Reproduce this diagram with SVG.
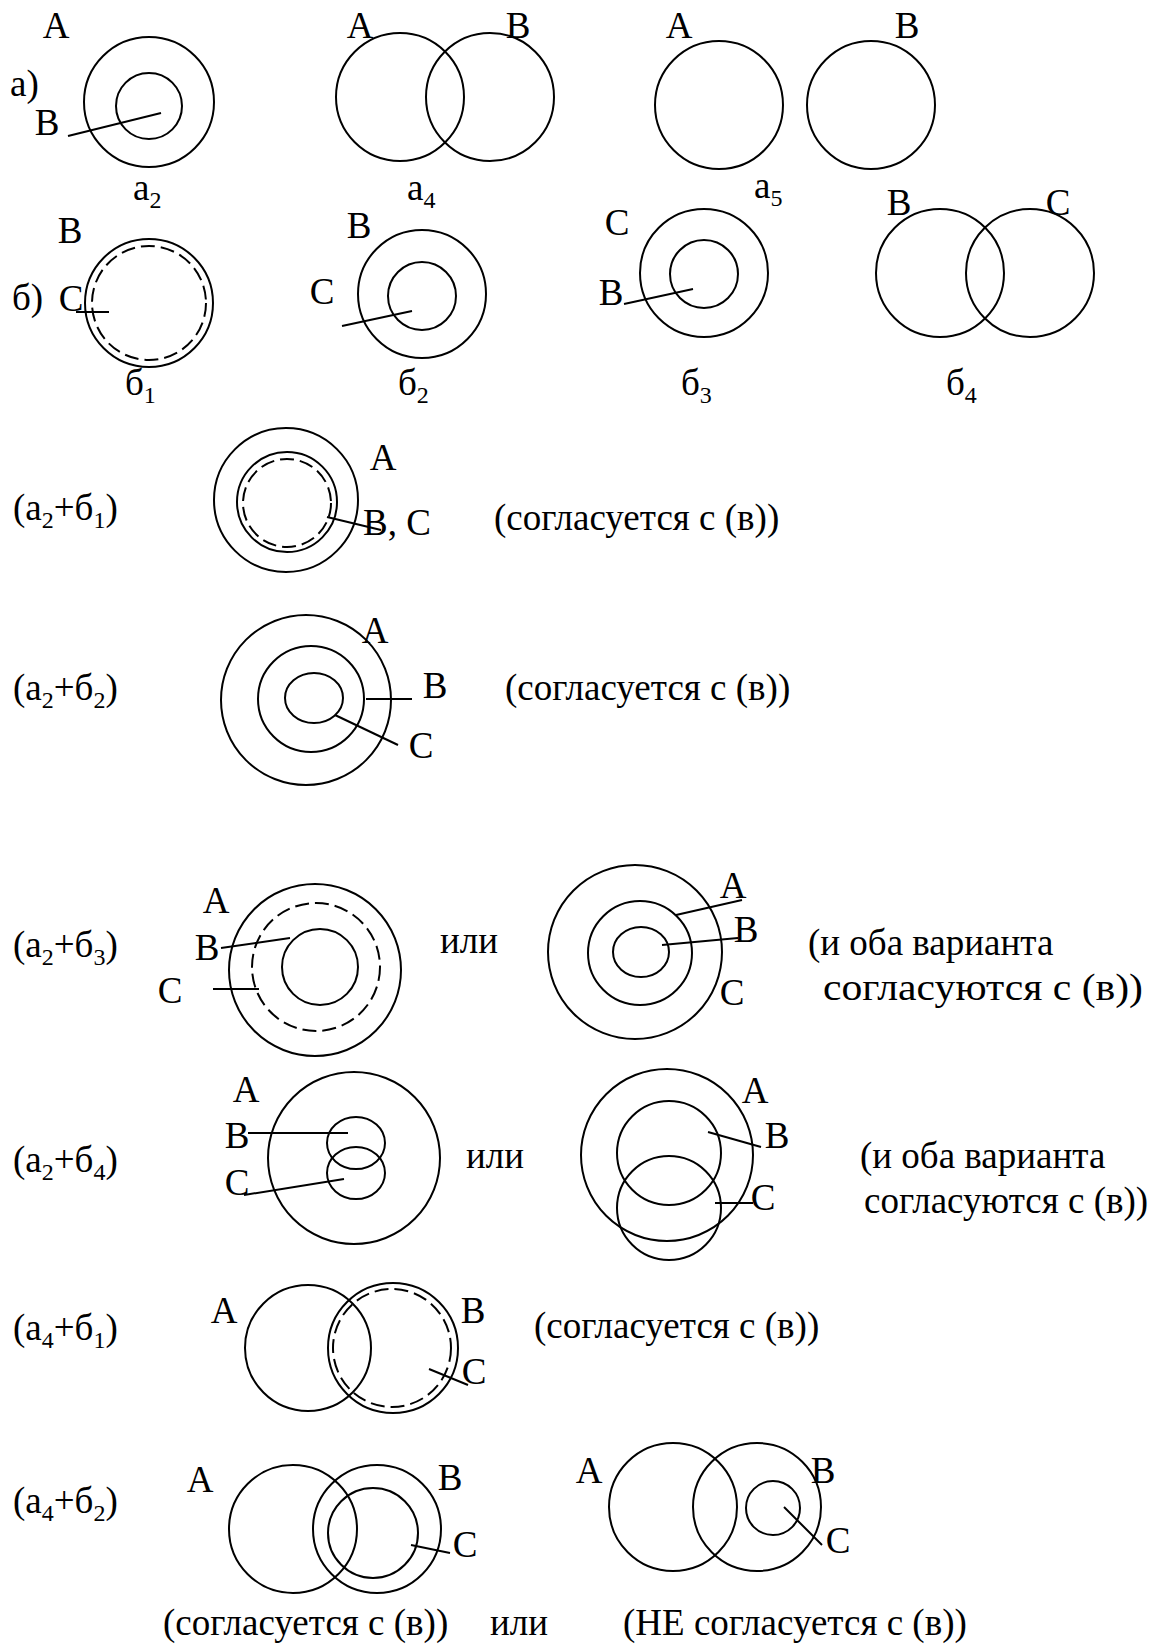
<svg xmlns="http://www.w3.org/2000/svg" width="1154" height="1649" viewBox="0 0 1154 1649">
<style>
.c{fill:none;stroke:#000;stroke-width:2}
.d{fill:none;stroke:#000;stroke-width:2;stroke-dasharray:14 6}
.l{stroke:#000;stroke-width:2;fill:none}
text{font-family:"Liberation Serif","Times New Roman",serif;font-size:37px;fill:#000}
.s{font-size:24px}
.m{text-anchor:middle}
</style>
<rect width="1154" height="1649" fill="#fff"/>
<g id="row-a">
<text x="10" y="96">а)</text>
</g>
<g id="a2">
<text class="m" x="56" y="38">A</text>
<text class="m" x="47" y="135">B</text>
<circle class="c" cx="149" cy="102" r="65"/>
<circle class="c" cx="149" cy="106" r="33"/>
<text x="133" y="200">а<tspan class="s" dy="8">2</tspan></text>
</g>
<g id="a4">
<text class="m" x="360" y="38">A</text>
<text class="m" x="518" y="38">B</text>
<circle class="c" cx="400" cy="97" r="64"/>
<circle class="c" cx="490" cy="97" r="64"/>
<text x="407" y="200">а<tspan class="s" dy="8">4</tspan></text>
</g>
<g id="a5">
<text class="m" x="679" y="38">A</text>
<text class="m" x="907" y="38">B</text>
<circle class="c" cx="719" cy="105" r="64"/>
<circle class="c" cx="871" cy="105" r="64"/>
<text x="754" y="198">а<tspan class="s" dy="8">5</tspan></text>
</g>
<g id="row-b">
<text x="12" y="310">б)</text>
</g>
<g id="b1">
<text class="m" x="70" y="243">B</text>
<text class="m" x="71" y="311">C</text>
<circle class="c" cx="149" cy="303" r="64"/>
<circle class="d" cx="149" cy="303" r="57"/>
<text x="125" y="395">б<tspan class="s" dy="8">1</tspan></text>
</g>
<g id="b2">
<text class="m" x="359" y="238">B</text>
<text class="m" x="322" y="304">C</text>
<circle class="c" cx="422" cy="294" r="64"/>
<circle class="c" cx="422" cy="296" r="34"/>
<text x="398" y="395">б<tspan class="s" dy="8">2</tspan></text>
</g>
<g id="b3">
<text class="m" x="617" y="235">C</text>
<text class="m" x="611" y="305">B</text>
<circle class="c" cx="704" cy="273" r="64"/>
<circle class="c" cx="704" cy="274" r="34"/>
<text x="681" y="395">б<tspan class="s" dy="8">3</tspan></text>
</g>
<g id="b4">
<text class="m" x="899" y="215">B</text>
<text class="m" x="1058" y="215">C</text>
<circle class="c" cx="940" cy="273" r="64"/>
<circle class="c" cx="1030" cy="273" r="64"/>
<text x="946" y="395">б<tspan class="s" dy="8">4</tspan></text>
</g>
<g id="a2b1">
<text x="13" y="520">(а<tspan class="s" dy="8">2</tspan><tspan dy="-8">+б</tspan><tspan class="s" dy="8">1</tspan><tspan dy="-8">)</tspan></text>
<circle class="c" cx="286" cy="500" r="72"/>
<circle class="c" cx="287" cy="502" r="50"/>
<circle class="d" cx="287" cy="503" r="44"/>
<text class="m" x="383" y="470">A</text>
<text x="363" y="535">B, C</text>
<text x="494" y="530">(согласуется с (в))</text>
</g>
<g id="a2b2">
<text x="13" y="700">(а<tspan class="s" dy="8">2</tspan><tspan dy="-8">+б</tspan><tspan class="s" dy="8">2</tspan><tspan dy="-8">)</tspan></text>
<circle class="c" cx="306" cy="700" r="85"/>
<circle class="c" cx="311" cy="699" r="53"/>
<ellipse class="c" cx="314" cy="698" rx="29" ry="25"/>
<text class="m" x="375" y="643">A</text>
<text class="m" x="435" y="698">B</text>
<text class="m" x="421" y="758">C</text>
<text x="505" y="700">(согласуется с (в))</text>
</g>
<g id="a2b3">
<text x="13" y="957">(а<tspan class="s" dy="8">2</tspan><tspan dy="-8">+б</tspan><tspan class="s" dy="8">3</tspan><tspan dy="-8">)</tspan></text>
<circle class="c" cx="315" cy="970" r="86"/>
<circle class="d" cx="316" cy="967" r="64"/>
<circle class="c" cx="320" cy="967" r="38"/>
<text class="m" x="216" y="913">A</text>
<text class="m" x="207" y="960">B</text>
<text class="m" x="170" y="1003">C</text>
<text x="440" y="953">или</text>
</g>
<g id="a2b3-alt">
<circle class="c" cx="635" cy="952" r="87"/>
<circle class="c" cx="640" cy="953" r="52"/>
<ellipse class="c" cx="641" cy="952" rx="28" ry="25"/>
<text class="m" x="733" y="898">A</text>
<text class="m" x="746" y="942">B</text>
<text class="m" x="732" y="1005">C</text>
<text x="808" y="955">(и оба варианта</text>
<text x="823" y="1000" textLength="320" lengthAdjust="spacingAndGlyphs">согласуются с (в))</text>
</g>
<g id="a2b4">
<text x="13" y="1172">(а<tspan class="s" dy="8">2</tspan><tspan dy="-8">+б</tspan><tspan class="s" dy="8">4</tspan><tspan dy="-8">)</tspan></text>
<circle class="c" cx="354" cy="1158" r="86"/>
<ellipse class="c" cx="356" cy="1143" rx="29" ry="26"/>
<ellipse class="c" cx="356" cy="1173" rx="29" ry="26"/>
<text class="m" x="246" y="1102">A</text>
<text class="m" x="237" y="1148">B</text>
<text class="m" x="237" y="1195">C</text>
<text x="466" y="1168">или</text>
</g>
<g id="a2b4-alt">
<circle class="c" cx="667" cy="1155" r="86"/>
<circle class="c" cx="669" cy="1153" r="52"/>
<circle class="c" cx="669" cy="1208" r="52"/>
<text class="m" x="755" y="1103">A</text>
<text class="m" x="777" y="1148">B</text>
<text class="m" x="763" y="1210">C</text>
<text x="860" y="1168">(и оба варианта</text>
<text x="864" y="1213">согласуются с (в))</text>
</g>
<g id="a4b1">
<text x="13" y="1340">(а<tspan class="s" dy="8">4</tspan><tspan dy="-8">+б</tspan><tspan class="s" dy="8">1</tspan><tspan dy="-8">)</tspan></text>
<circle class="c" cx="308" cy="1348" r="63"/>
<circle class="c" cx="393" cy="1348" r="65"/>
<circle class="d" cx="392" cy="1348" r="59"/>
<text class="m" x="224" y="1323">A</text>
<text class="m" x="473" y="1323">B</text>
<text class="m" x="474" y="1384">C</text>
<text x="534" y="1338">(согласуется с (в))</text>
</g>
<g id="a4b2">
<text x="13" y="1513">(а<tspan class="s" dy="8">4</tspan><tspan dy="-8">+б</tspan><tspan class="s" dy="8">2</tspan><tspan dy="-8">)</tspan></text>
<circle class="c" cx="293" cy="1529" r="64"/>
<circle class="c" cx="377" cy="1529" r="64"/>
<circle class="c" cx="373" cy="1533" r="45"/>
<text class="m" x="200" y="1492">A</text>
<text class="m" x="450" y="1490">B</text>
<text class="m" x="465" y="1557">C</text>
<text x="163" y="1635">(согласуется с (в))</text>
<text x="490" y="1635">или</text>
</g>
<g id="a4b2-alt">
<circle class="c" cx="673" cy="1507" r="64"/>
<circle class="c" cx="757" cy="1507" r="64"/>
<circle class="c" cx="773" cy="1508" r="27"/>
<text class="m" x="589" y="1483">A</text>
<text class="m" x="823" y="1483">B</text>
<text class="m" x="838" y="1553">C</text>
<text x="623" y="1635">(НЕ согласуется с (в))</text>
</g>
<g id="connectors">
<line class="l" x1="68" y1="136" x2="161" y2="113"/>
<line class="l" x1="76" y1="312" x2="109" y2="312"/>
<line class="l" x1="342" y1="326" x2="412" y2="311"/>
<line class="l" x1="624" y1="304" x2="693" y2="289"/>
<line class="l" x1="327" y1="517" x2="381" y2="530"/>
<line class="l" x1="366" y1="699" x2="412" y2="699"/>
<line class="l" x1="335" y1="715" x2="398" y2="745"/>
<line class="l" x1="221" y1="948" x2="290" y2="938"/>
<line class="l" x1="213" y1="989" x2="259" y2="989"/>
<line class="l" x1="676" y1="915" x2="742" y2="900"/>
<line class="l" x1="662" y1="945" x2="738" y2="938"/>
<line class="l" x1="248" y1="1133" x2="348" y2="1133"/>
<line class="l" x1="244" y1="1195" x2="344" y2="1179"/>
<line class="l" x1="708" y1="1132" x2="761" y2="1147"/>
<line class="l" x1="715" y1="1203" x2="753" y2="1203"/>
<line class="l" x1="429" y1="1369" x2="468" y2="1385"/>
<line class="l" x1="411" y1="1545" x2="450" y2="1553"/>
<line class="l" x1="784" y1="1507" x2="822" y2="1545"/>
</g>
</svg>
